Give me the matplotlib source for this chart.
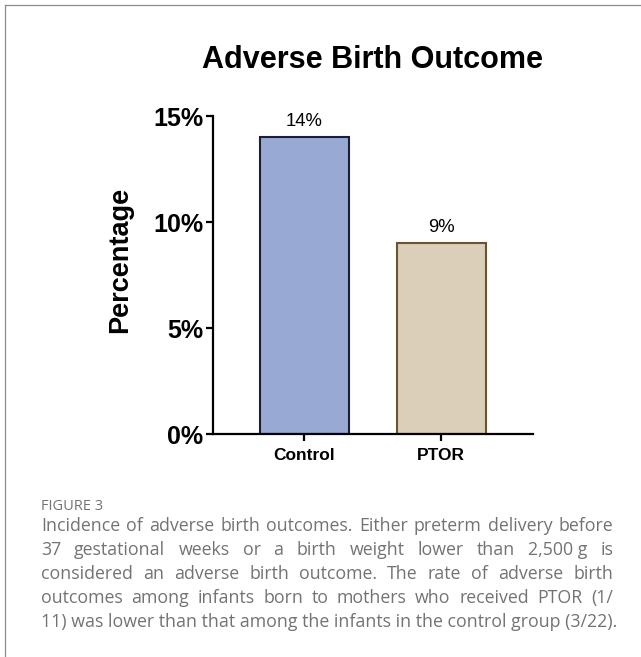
import matplotlib
matplotlib.use("Agg")
import matplotlib.pyplot as plt
from matplotlib.lines import Line2D

# Incidence of adverse birth outcomes per group (%)
groups = ["Control", "PTOR"]
rates = [14, 9]
rate_labels = ["14%", "9%"]
yticks = [0, 5, 10, 15]
ytick_labels = ["0%", "5%", "10%", "15%"]

caption_head = "FIGURE 3"
caption_lines = [
    "Incidence of adverse birth outcomes. Either preterm delivery before",
    "37 gestational weeks or a birth weight lower than 2,500\u00a0g is",
    "considered an adverse birth outcome. The rate of adverse birth",
    "outcomes among infants born to mothers who received PTOR (1/",
    "11) was lower than that among the infants in the control group (3/22).",
]

fill_colors = ["#98aad4", "#dbcfb9"]
edge_colors = ["#1b1f33", "#6b5430"]

W, H = 641, 657
fig = plt.figure(figsize=(W / 100, H / 100), dpi=100)
fig.patch.set_facecolor("white")

# thin gray frame along top and left edges
fig.add_artist(Line2D([5 / W, 1], [1 - 4.5 / H, 1 - 4.5 / H], color="#8c8c8c", lw=0.9))
fig.add_artist(Line2D([5 / W, 5 / W], [0, 1 - 4.5 / H], color="#8c8c8c", lw=0.9))

ax = fig.add_axes([213 / W, 1 - 434 / H, (533 - 213) / W, (434 - 116) / H])
x = list(range(len(groups)))
bars = ax.bar(x, rates, width=0.65, color=fill_colors, edgecolor=edge_colors, linewidth=1.5)

for xi, r, lab in zip(x, rates, rate_labels):
    ax.annotate(lab, (xi, r), xytext=(0, 5), textcoords="offset points",
                ha="center", va="bottom", fontsize=13.3, family="Liberation Sans")

ax.set_xlim(-0.665, 1.67)
ax.set_ylim(0, 15)
ax.set_yticks(yticks)
ax.set_yticklabels(ytick_labels, fontsize=18, fontweight="bold", family="Liberation Sans")
ax.set_xticks(x)
ax.set_xticklabels(groups, fontsize=12.5, fontweight="bold", family="Liberation Sans")
ax.tick_params(axis="y", length=5, width=1.6, pad=2)
ax.tick_params(axis="x", length=5, width=1.6, pad=5)
for s in ["top", "right"]:
    ax.spines[s].set_visible(False)
for s in ["left", "bottom"]:
    ax.spines[s].set_linewidth(1.6)
ax.set_ylabel("Percentage", fontsize=19.5, fontweight="bold", family="Liberation Sans")
ax.yaxis.set_label_coords(-0.25, 0.547)

fig.text(373 / W, 1 - 60 / H, "Adverse Birth Outcome", ha="center", va="center",
         fontsize=22, fontweight="bold", family="Liberation Sans")

# caption, justified between left and right margins
cap_color = "#737373"
cap_font = "Open Sans"
left, right = 41, 613
fig.text(left / W, 1 - 506 / H, caption_head, ha="left", va="center",
         fontsize=10.5, color=cap_color, family=cap_font)

fig.canvas.draw()
renderer = fig.canvas.get_renderer()

# size the caption so the last (unjustified) line fills the text column
probe = fig.text(0, 0, caption_lines[-1], fontsize=12, family=cap_font)
cap_size = 12 * (right - left) / probe.get_window_extent(renderer).width
probe.remove()

line_y = [526, 550, 574, 598, 622]
for i, (line, yc) in enumerate(zip(caption_lines, line_y)):
    words = line.split(" ")
    if i == len(caption_lines) - 1:
        fig.text(left / W, 1 - yc / H, line, ha="left", va="center",
                 fontsize=cap_size, color=cap_color, family=cap_font)
        continue
    texts = [fig.text(0, 1 - yc / H, w, ha="left", va="center",
                      fontsize=cap_size, color=cap_color, family=cap_font) for w in words]
    widths = [t.get_window_extent(renderer).width for t in texts]
    gap = (right - left - sum(widths)) / (len(words) - 1)
    pos = left
    for t, w in zip(texts, widths):
        t.set_x(pos / W)
        pos += w + gap

fig.savefig("out.png", dpi=100)
